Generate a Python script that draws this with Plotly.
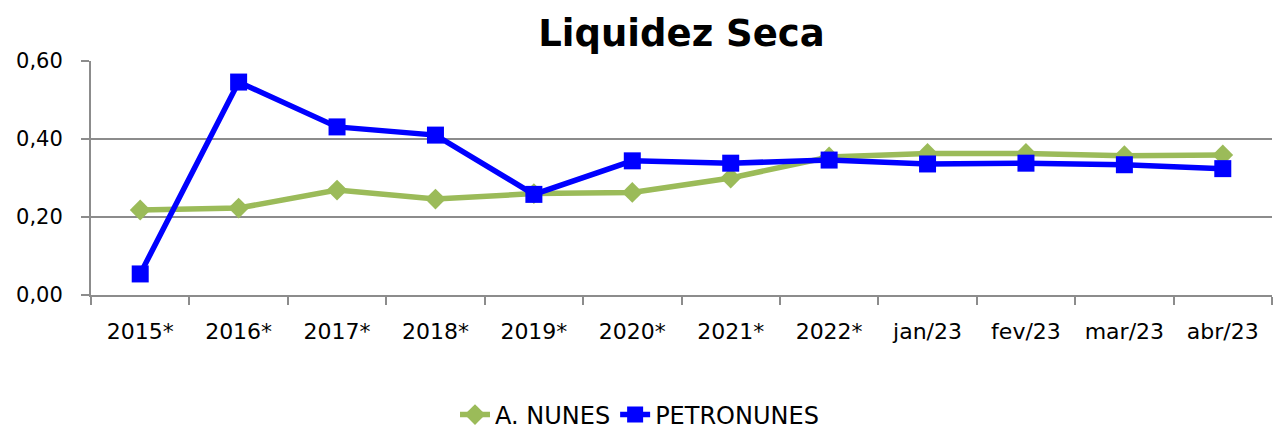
import plotly.graph_objects as go

categories = ["2015*", "2016*", "2017*", "2018*", "2019*", "2020*", "2021*", "2022*",
              "jan/23", "fev/23", "mar/23", "abr/23"]
a_nunes = [0.218, 0.223, 0.269, 0.246, 0.260, 0.263, 0.300, 0.354, 0.363, 0.363, 0.357, 0.359]
petronunes = [0.054, 0.546, 0.431, 0.410, 0.258, 0.344, 0.338, 0.346, 0.336, 0.338, 0.334, 0.324]

fig = go.Figure()
fig.add_trace(go.Scatter(
    x=categories, y=a_nunes, name="A. NUNES", mode="lines+markers",
    line=dict(color="#9BBB59", width=5.5),
    marker=dict(symbol="diamond", size=16, color="#9BBB59"),
))
fig.add_trace(go.Scatter(
    x=categories, y=petronunes, name="PETRONUNES", mode="lines+markers",
    line=dict(color="#0000FF", width=5.5),
    marker=dict(symbol="square", size=17, color="#0000FF"),
))

fig.update_layout(
    width=1279, height=430,
    paper_bgcolor="white", plot_bgcolor="white",
    margin=dict(l=91, r=7, t=61, b=135, autoexpand=False),
    separators=",.",
    title=dict(text="<b>Liquidez Seca</b>", x=0.5, xref="paper", xanchor="center",
               y=1 - 33 / 430, yref="container", yanchor="middle",
               font=dict(family="DejaVu Sans", size=37, color="black")),
    font=dict(family="DejaVu Sans", size=20, color="black"),
    showlegend=True,
    legend=dict(orientation="h", x=0.5, xref="container", xanchor="center",
                y=1 - 415 / 430, yref="container", yanchor="middle",
                font=dict(size=24), traceorder="normal"),
)
fig.update_xaxes(
    type="category", showline=True, linecolor="#8C8C8C", linewidth=2,
    ticks="outside", tickson="boundaries", ticklen=8, tickcolor="#8C8C8C", tickwidth=2,
    showgrid=False, range=[-0.5, 11.5], tickfont=dict(size=22), automargin=False,
    ticklabelstandoff=16,
)
fig.update_yaxes(
    range=[0, 0.6], tickvals=[0, 0.2, 0.4, 0.6], tickformat=".2f",
    showline=True, linecolor="#8C8C8C", linewidth=2,
    ticks="outside", ticklen=8, tickcolor="#8C8C8C", tickwidth=2,
    showgrid=True, gridcolor="#8C8C8C", gridwidth=2, zeroline=False,
    tickfont=dict(size=21), automargin=False, ticklabelstandoff=14,
)

fig.write_html(
    "out.html",
    config={"displayModeBar": False},
    post_script="document.body.style.margin='0';document.body.style.overflow='hidden';",
)
